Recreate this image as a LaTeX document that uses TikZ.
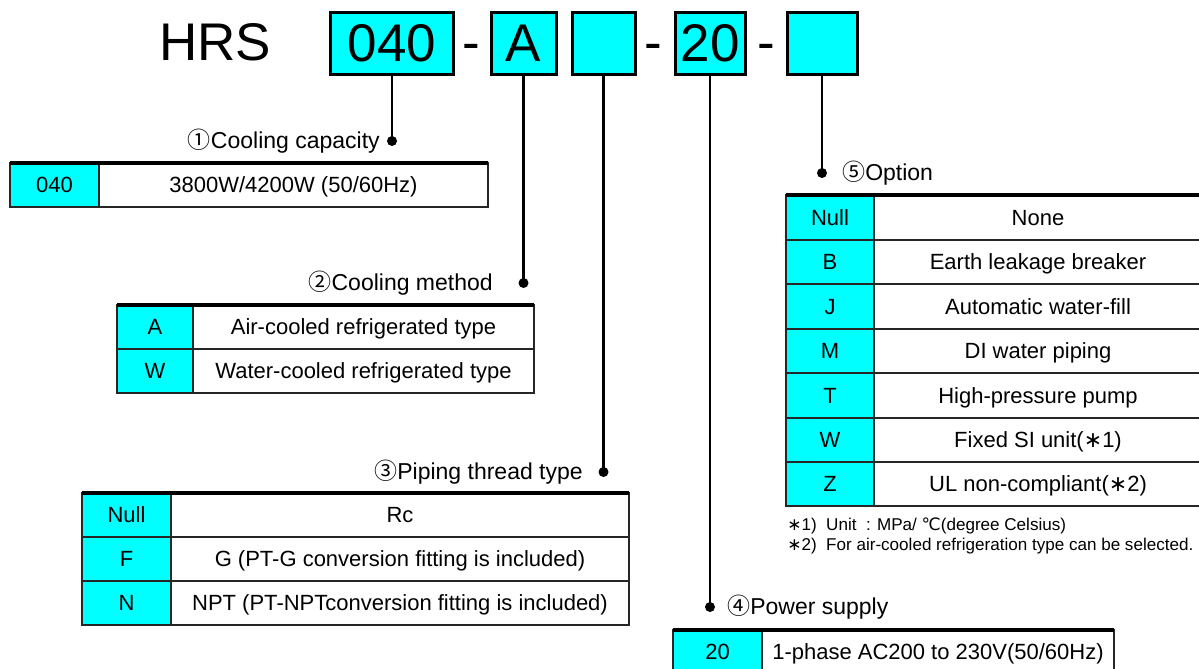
\documentclass[tikz,border=0pt]{standalone}
\usepackage{fontspec}
\setmainfont{Liberation Sans}
\newfontfamily\circfont{Noto Sans CJK JP}
\newfontfamily\symfont{DejaVu Sans}
\definecolor{aqua}{RGB}{0,255,255}
\newcommand{\tabrow}[8]{%
  \fill[aqua] (#2,#5) rectangle (#3,#6);
  \draw[tline] (#2,#5) rectangle (#4,#6) (#3,#5) -- (#3,#6);
  \node[celltext] (#1c) at ({(#2+#3)/2},{(#5+#6)/2}) {#7};
  \node[celltext] (#1d) at ({(#3+#4)/2},{(#5+#6)/2}) {#8};}
\begin{document}
\begin{tikzpicture}[x=0.75pt,y=-0.75pt,
  codebox/.style={draw=black, line width=2.25pt, fill=aqua, inner sep=0pt,
    minimum height=46.5pt, font=\fontsize{39.75pt}{40pt}\selectfont},
  bigtext/.style={inner sep=0pt, font=\fontsize{39.75pt}{40pt}\selectfont},
  conn/.style={line width=1.9pt},
  dotnode/.style={circle, fill=black, inner sep=0pt, minimum size=7.5pt},
  hdr/.style={inner sep=0pt, font=\fontsize{17.25pt}{20pt}\selectfont},
  tline/.style={draw=black!85, line width=0.8pt},
  topline/.style={line width=2.6pt},
  celltext/.style={inner sep=0pt, text height=11.8pt, text depth=0pt,
    font=\fontsize{16.5pt}{18pt}\selectfont},
  note/.style={inner sep=0pt, anchor=base west, font=\fontsize{12.8pt}{14pt}\selectfont}]
\useasboundingbox (0,0) rectangle (1199,668);

% title row
\node[bigtext, anchor=base west] (hrs) at (159,60) {HRS};
\node[codebox, minimum width=92.25pt] (b1) at (392,43) {040};
\node[bigtext, anchor=base] (h1) at (471,60) {-};
\node[codebox, minimum width=48.75pt] (b2) at (523.5,43) {A};
\node[codebox, minimum width=47.25pt] (b3) at (603.5,43) {};
\node[bigtext, anchor=base] (h2) at (653.5,60) {-};
\node[codebox, minimum width=52.5pt] (b4) at (710,43) {20};
\node[bigtext, anchor=base] (h3) at (766,60) {-};
\node[codebox, minimum width=52.5pt] (b5) at (822,43) {};

% dots
\node[dotnode] (d1) at (392,141) {};
\node[dotnode] (d2) at (523.5,283) {};
\node[dotnode] (d3) at (603.5,472) {};
\node[dotnode] (d4) at (710,607) {};
\node[dotnode] (d5) at (822,173) {};
\draw[conn] (b1.south) -- (d1.center);
\draw[conn] (b2.south) -- (d2.center);
\draw[conn] (b3.south) -- (d3.center);
\draw[conn] (b4.south) -- (d4.center);
\draw[conn] (b5.south) -- (d5.center);

% headers
\node[hdr, anchor=base east] (t1) at (380,148) {{\circfont ①}Cooling capacity};
\node[hdr, anchor=base east] (t2) at (493,290) {{\circfont ②}Cooling method};
\node[hdr, anchor=base east] (t3) at (583,479) {{\circfont ③}Piping thread type};
\node[hdr, anchor=base west] (t4) at (727,614) {{\circfont ④}Power supply};
\node[hdr, anchor=base west] (t5) at (842,180) {{\circfont ⑤}Option};

% table 1
\tabrow{ta}{10}{99}{488}{163}{207}{040}{3800W/4200W (50/60Hz)}
\draw[topline] (10,163) -- (488,163);

% table 2
\tabrow{tba}{117}{193}{534}{305}{349}{A}{Air-cooled refrigerated type}
\tabrow{tbw}{117}{193}{534}{349}{393}{W}{Water-cooled refrigerated type}
\draw[topline] (117,305) -- (534,305);

% table 3
\tabrow{tcn}{82}{171}{629}{493}{537}{Null}{Rc}
\tabrow{tcf}{82}{171}{629}{537}{581}{F}{G (PT-G conversion fitting is included)}
\tabrow{tcm}{82}{171}{629}{581}{625}{N}{NPT (PT-NPTconversion fitting is included)}
\draw[topline] (82,493) -- (629,493);

% table 4
\tabrow{td}{673}{762}{1114}{630}{674}{20}{1-phase AC200 to 230V(50/60Hz)}
\draw[topline] (673,630) -- (1114,630);

% table 5
\tabrow{ten}{786}{874}{1202}{195}{240}{Null}{None}
\tabrow{teb}{786}{874}{1202}{240}{284}{B}{Earth leakage breaker}
\tabrow{tej}{786}{874}{1202}{284}{329}{J}{Automatic water-fill}
\tabrow{tem}{786}{874}{1202}{329}{373}{M}{DI water piping}
\tabrow{tet}{786}{874}{1202}{373}{418}{T}{High-pressure pump}
\tabrow{tew}{786}{874}{1202}{418}{462}{W}{Fixed SI unit({\symfont ∗}1)}
\tabrow{tez}{786}{874}{1202}{462}{506}{Z}{UL non-compliant({\symfont ∗}2)}
\draw[topline] (786,195) -- (1202,195);

% notes
\node[note] (n1) at (787,530) {{\symfont ∗}1)\ \ Unit\ \ : MPa/ {\symfont ℃}(degree Celsius)};
\node[note] (n2) at (787,550) {{\symfont ∗}2)\ \ For air-cooled refrigeration type can be selected.};
\end{tikzpicture}
\end{document}
